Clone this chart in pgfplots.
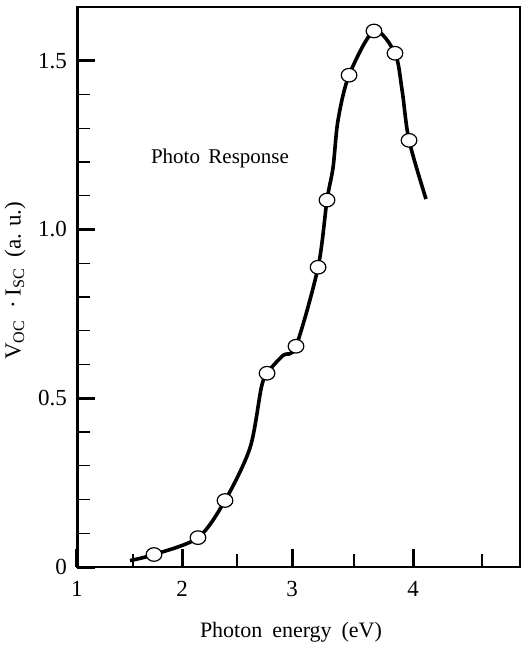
\documentclass[border=0pt]{standalone}
\usepackage{fontspec}
\setmainfont{Liberation Serif}
\usepackage{pgfplots}
\pgfplotsset{compat=1.18}
\begin{document}
\begin{tikzpicture}
\begin{axis}[
    scale only axis,
    width=221.5pt, height=280pt,
    % the printed energy axis is not quite uniform: piecewise linear map
    x coord trafo/.code={\pgfmathparse{#1<1.5 ? 77+(#1-1)*112 : (#1<2 ? 133+(#1-1.5)*98 : (#1<2.5 ? 182+(#1-2)*110 : (#1<3 ? 237+(#1-2.5)*110 : (#1<3.5 ? 292+(#1-3)*124 : (#1<4 ? 354+(#1-3.5)*118 : 413+(#1-4)*138)))))}},
    xmin=1, xmax=4.775,
    ymin=0, ymax=1.659,
    xtick={1,2,3,4}, xticklabels={1,2,3,4},
    minor xtick={1.5,2.5,3.5,4.5},
    ytick={0,0.5,1.0,1.5}, yticklabels={0,0.5,1.0,1.5},
    minor ytick={0.1,0.2,0.3,0.4,0.6,0.7,0.8,0.9,1.1,1.2,1.3,1.4},
    tick align=inside,
    xtick pos=bottom, ytick pos=left,
    major tick length=9pt, minor tick length=6.5pt,
    major tick style={line width=1.5pt, black},
    minor tick style={line width=0.6pt, black},
    axis line style={line width=1pt},
    ticklabel style={font=\fontsize{11.5}{13}\selectfont},
    xticklabel style={yshift=-3.5pt},
    yticklabel style={xshift=-1.5pt},
    xlabel={Photon\hspace{0.45em}energy\hspace{0.45em}(eV)},
    xlabel style={at={(axis description cs:0.483,-0.116)}, anchor=center, font=\fontsize{11}{13}\selectfont},
    ylabel={V\textsubscript{OC}\hspace{0.5em}\textperiodcentered\hspace{0.2em}I\textsubscript{SC}\hspace{0.45em}(a.\hspace{0.3em}u.)},
    ylabel style={at={(axis description cs:-0.14,0.511)}, anchor=center, font=\fontsize{11.5}{13}\selectfont},
]
\draw[line width=2pt] (rel axis cs:0,0) -- (rel axis cs:0,1);
\draw[line width=1.5pt] (rel axis cs:0,0) -- (rel axis cs:1,0);

\addplot[black, line width=1.8pt, smooth] coordinates {
    (1.473,0.019) (1.714,0.037) (2.145,0.087) (2.391,0.197)
    (2.618,0.353) (2.720,0.530) (2.773,0.574) (2.918,0.627)
    (3.032,0.654) (3.210,0.888) (3.282,1.087) (3.331,1.184)
    (3.371,1.324) (3.460,1.457) (3.669,1.588) (3.847,1.522)
    (3.907,1.413) (3.966,1.264) (4.094,1.090)
};
\addplot[only marks, mark=*, mark size=3.4pt,
    mark options={fill=white, draw=black, line width=0.6pt, xscale=1.15}] coordinates {
    (1.714,0.037) (2.145,0.087) (2.391,0.197) (2.773,0.574)
    (3.032,0.654) (3.210,0.888) (3.282,1.087) (3.460,1.457)
    (3.669,1.588) (3.847,1.522) (3.966,1.264)
};

\node[font=\fontsize{10.5}{12}\selectfont] at (axis cs:2.345,1.211) {Photo\hspace{0.4em}Response};
\end{axis}
\pgfresetboundingbox
\path[use as bounding box] (-38.5pt,-40pt) rectangle (222.5pt,283.5pt);
\end{tikzpicture}
\end{document}
